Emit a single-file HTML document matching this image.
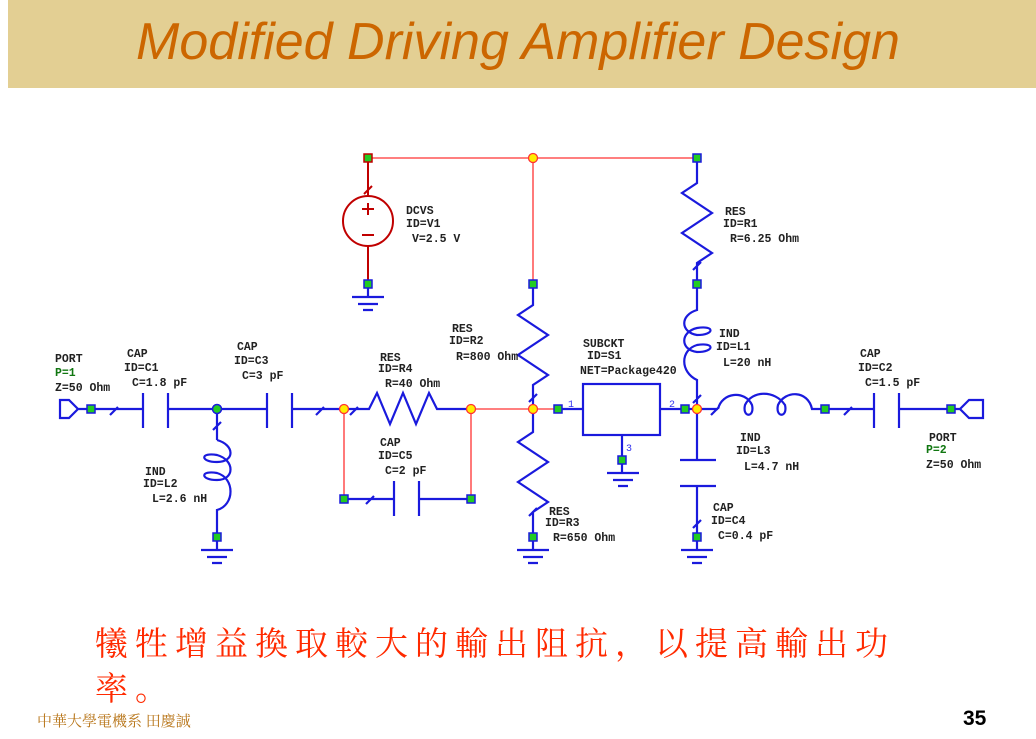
<!DOCTYPE html>
<html><head><meta charset="utf-8"><style>
html,body{margin:0;padding:0;background:#fff;}
body{width:1036px;height:739px;position:relative;overflow:hidden;font-family:"Liberation Sans",sans-serif;}
.band{position:absolute;left:8px;top:0;width:1028px;height:88px;background:#e3cf93;}
.title{position:absolute;left:0;width:1036px;top:12px;text-align:center;font-size:52px;font-style:italic;color:#cc6600;font-family:"Liberation Sans Narrow","Liberation Sans",sans-serif;}
.cn{position:absolute;left:95px;color:#ff2a00;font-family:"Liberation Serif","Noto Serif CJK SC","Noto Sans CJK TC",serif;font-size:33px;letter-spacing:7px;}
.foot{position:absolute;left:37px;top:710px;font-size:15px;color:#b8761a;font-family:"Liberation Serif","Noto Serif CJK SC",serif;}
.num{position:absolute;left:963px;top:707px;font-size:21px;font-weight:bold;color:#000;}
svg{position:absolute;left:0;top:0;}
svg text{font-family:"Liberation Mono",monospace;font-size:11.5px;font-weight:bold;fill:#222;}
</style></head><body>
<div class="band"></div>
<div class="title">Modified Driving Amplifier Design</div>
<svg width="1036" height="739" viewBox="0 0 1036 739">
<g stroke="#ff3333" stroke-width="1.3" fill="none">
<path d="M368 158H697M533 158V284M471 409H558M344 409V499M471 409V499"/>
</g>
<g stroke="#c00000" stroke-width="2" fill="none">
<path d="M368 158V196M368 246V284M364 194l8-8"/>
<circle cx="368" cy="221" r="25"/>
<path d="M362 209h12M368 203v12M362 235h12"/>
</g>
<g stroke="#1a1add" stroke-width="2.2" fill="none">
<!-- port1 -->
<path d="M60 400h9l9 9-9 9h-9zM78 409H143M110 415l8-8M143 393v35M168 393v35M168 409H267M267 393v35M292 393v35M292 409H344M316 415l8-8"/>
<path d="M344 409H369l8-16 13 31 13-31 13 31 13-31 8 16H471"/>
<path d="M350 415l8-8"/>
<!-- L2 -->
<path d="M217 409V440M213 430l8-8M217 440C235 445 235 462 217 462C200 462 200 452 217 455C235 460 235 480 217 480C200 480 200 470 217 473C235 478 235 505 217 510V550"/>
<path d="M201 550h32M207 557h20M212 563h10"/>
<!-- C5 -->
<path d="M344 499H394M366 504l8-8M394 481v35M419 481v35M419 499H471"/>
<!-- R2 R3 -->
<path d="M533 284V305l-15 10 30 20-30 20 30 20-15 10V409"/>
<path d="M533 409V432l-15 10 30 20-30 20 30 20-15 10V550M529 516l8-8M529 402l8-8"/>
<path d="M517 550h32M523 557h20M528 563h10"/>
<!-- subckt -->
<path d="M558 409H583M660 409H697"/>
<rect x="583" y="384" width="77" height="51"/>
<path d="M622 435V473M607 473h32M613 480h20M618 486h10"/>
<!-- R1 L1 -->
<path d="M697 158V183l-15 10 30 20-30 20 30 20-15 10V284M693 270l8-8"/>
<path d="M697 284V310C680 315 680 332 697 335C715 335 715 325 697 328C680 332 680 350 697 352C715 352 715 342 697 345C680 350 680 372 697 380V409M693 403l8-8"/>
<!-- C4 -->
<path d="M697 409V460M680 460h36M680 486h36M697 486V550M693 528l8-8"/>
<path d="M681 550h32M687 557h20M692 563h10"/>
<!-- L3 -->
<path d="M697 409H718M711 415l8-8M718 409C722 392 745 390 752 405C755 418 742 418 745 405C752 390 775 390 785 405C788 418 775 418 778 405C785 390 808 390 812 409H874M844 415l8-8M874 393v35M899 393v35M899 409H960"/>
<path d="M960 409l9-9h14v18h-14z"/>
<!-- DCVS ground -->
<path d="M352 297h32M358 304h20M363 310h10M368 284V297"/>
</g>
<g stroke="#1a1add" stroke-width="1.5" fill="#22cc22">
<rect x="87" y="405" width="8" height="8"/><rect x="213" y="533" width="8" height="8"/>
<rect x="340" y="495" width="8" height="8"/><rect x="467" y="495" width="8" height="8"/>
<rect x="529" y="280" width="8" height="8"/><rect x="529" y="533" width="8" height="8"/>
<rect x="554" y="405" width="8" height="8"/><rect x="681" y="405" width="8" height="8"/>
<rect x="618" y="456" width="8" height="8"/><rect x="693" y="280" width="8" height="8"/>
<rect x="693" y="533" width="8" height="8"/><rect x="821" y="405" width="8" height="8"/>
<rect x="947" y="405" width="8" height="8"/><rect x="364" y="280" width="8" height="8"/>
<rect x="693" y="154" width="8" height="8"/>
</g>
<rect x="364" y="154" width="8" height="8" fill="#22cc22" stroke="#c00000" stroke-width="1.5"/>
<circle cx="217" cy="409" r="4.5" fill="#22cc22" stroke="#1a1add" stroke-width="1.5"/>
<g fill="#ffee00" stroke="#ff3333" stroke-width="1.3">
<circle cx="533" cy="158" r="4.5"/><circle cx="344" cy="409" r="4.5"/><circle cx="471" cy="409" r="4.5"/>
<circle cx="533" cy="409" r="4.5"/><circle cx="697" cy="409" r="4.5"/>
</g>
<g>
<text x="55" y="362">PORT</text><text x="55" y="376" style="fill:#117711">P=1</text><text x="55" y="391">Z=50 Ohm</text>
<text x="127" y="357">CAP</text><text x="124" y="371">ID=C1</text><text x="132" y="386">C=1.8 pF</text>
<text x="237" y="350">CAP</text><text x="234" y="364">ID=C3</text><text x="242" y="379">C=3 pF</text>
<text x="380" y="361">RES</text><text x="378" y="372">ID=R4</text><text x="385" y="387">R=40 Ohm</text>
<text x="380" y="446">CAP</text><text x="378" y="459">ID=C5</text><text x="385" y="474">C=2 pF</text>
<text x="145" y="475">IND</text><text x="143" y="487">ID=L2</text><text x="152" y="502">L=2.6 nH</text>
<text x="452" y="332">RES</text><text x="449" y="344">ID=R2</text><text x="456" y="360">R=800 Ohm</text>
<text x="549" y="515">RES</text><text x="545" y="526">ID=R3</text><text x="553" y="541">R=650 Ohm</text>
<text x="406" y="214">DCVS</text><text x="406" y="227">ID=V1</text><text x="412" y="242">V=2.5 V</text>
<text x="725" y="215">RES</text><text x="723" y="227">ID=R1</text><text x="730" y="242">R=6.25 Ohm</text>
<text x="583" y="347">SUBCKT</text><text x="587" y="359">ID=S1</text><text x="580" y="374">NET=Package420</text>
<text x="719" y="337">IND</text><text x="716" y="350">ID=L1</text><text x="723" y="366">L=20 nH</text>
<text x="740" y="441">IND</text><text x="736" y="454">ID=L3</text><text x="744" y="470">L=4.7 nH</text>
<text x="713" y="511">CAP</text><text x="711" y="524">ID=C4</text><text x="718" y="539">C=0.4 pF</text>
<text x="860" y="357">CAP</text><text x="858" y="371">ID=C2</text><text x="865" y="386">C=1.5 pF</text>
<text x="929" y="441">PORT</text><text x="926" y="453" style="fill:#117711">P=2</text><text x="926" y="468">Z=50 Ohm</text>
<text x="568" y="407" style="fill:#3333ee;font-weight:normal;font-size:10px">1</text>
<text x="669" y="407" style="fill:#3333ee;font-weight:normal;font-size:10px">2</text>
<text x="626" y="451" style="fill:#3333ee;font-weight:normal;font-size:10px">3</text>
</g>
</svg>
<div class="cn" style="top:618px">犧牲增益換取較大的輸出阻抗，以提高輸出功</div>
<div class="cn" style="top:663px">率。</div>
<div class="foot">中華大學電機系 田慶誠</div>
<div class="num">35</div>
</body></html>
